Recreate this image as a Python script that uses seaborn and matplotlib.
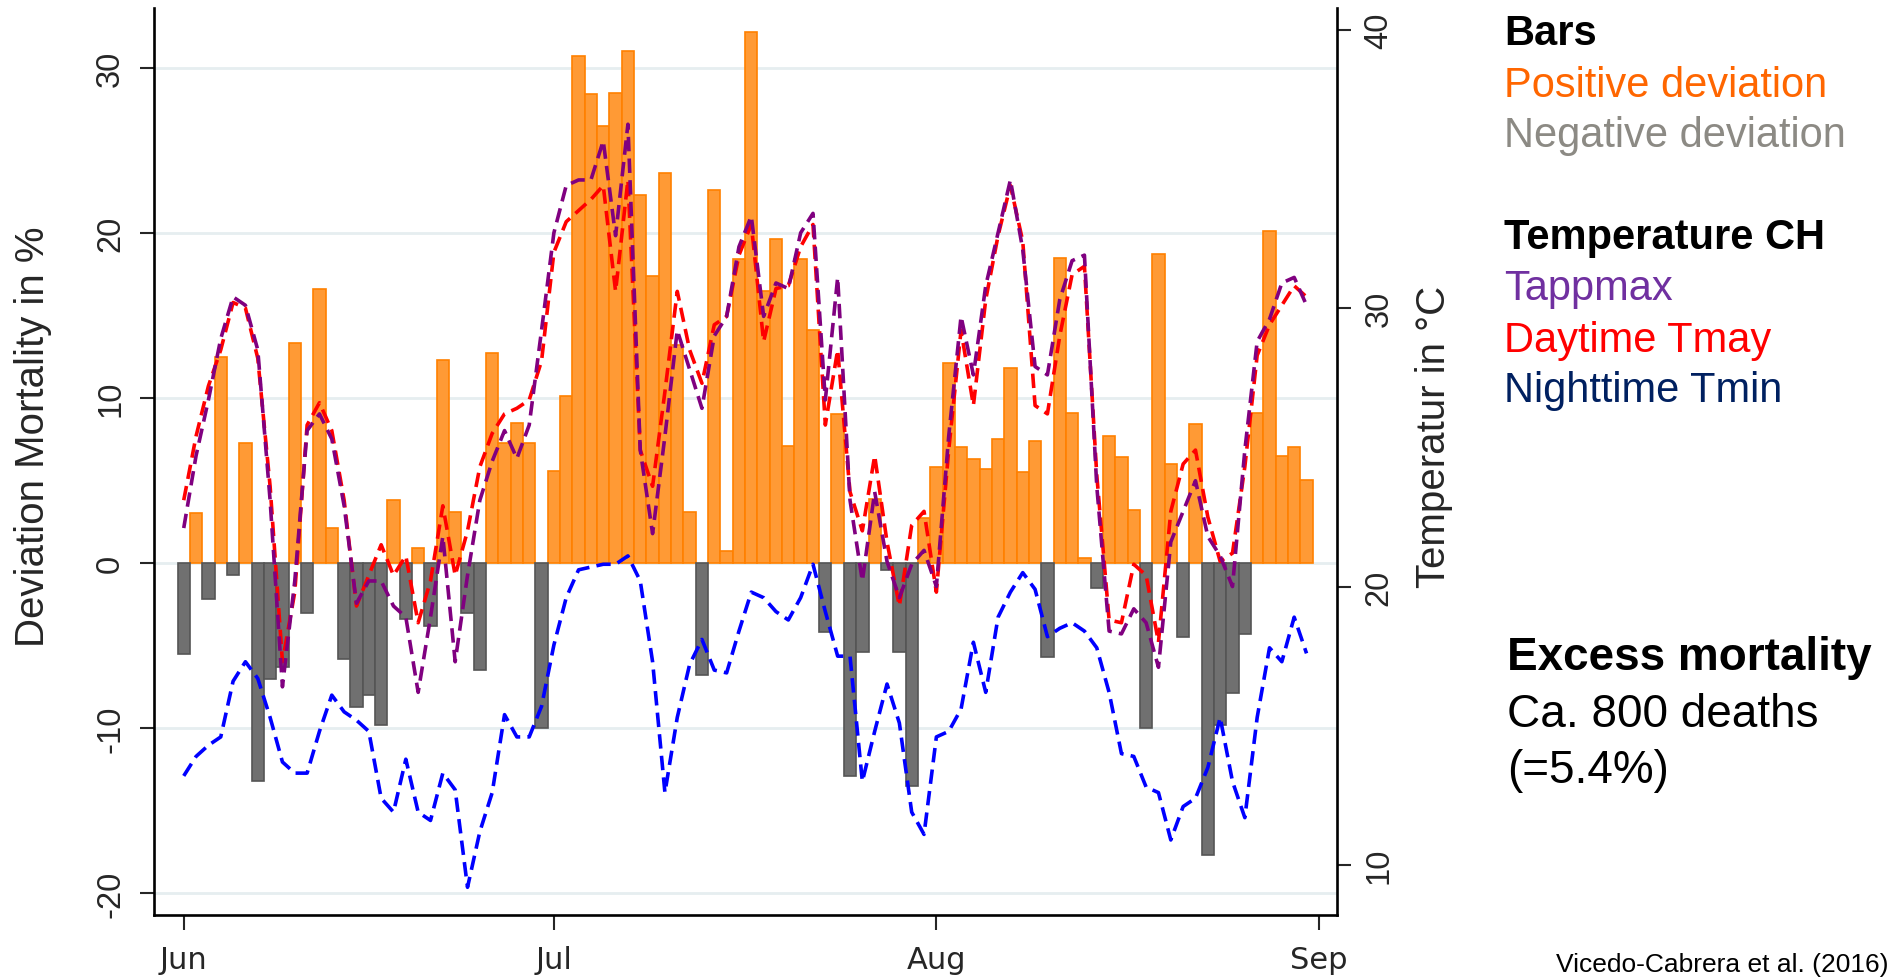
import numpy as np
import pandas as pd
import matplotlib
matplotlib.use('Agg')
import matplotlib.pyplot as plt
import seaborn as sns

# ---------------- data (daily, 1 Jun .. 31 Aug) ----------------
days = list(range(92))

deviation = [
    -5.5, 3.0, -2.2, 12.5, -0.7, 7.3, -13.2, -7.0, -6.3, 13.3,
    -3.0, 16.6, 2.1, -5.8, -8.7, -8.0, -9.8, 3.8, -3.4, 0.9,
    -3.8, 12.3, 3.1, -3.0, -6.5, 12.7, 7.3, 8.5, 7.3, -10.0,
    5.6, 10.1, 30.7, 28.4, 26.5, 28.5, 31.0, 22.3, 17.4, 23.6,
    13.2, 3.1, -6.8, 22.6, 0.7, 18.4, 32.2, 16.5, 19.6, 7.1,
    18.4, 14.1, -4.2, 9.0, -12.9, -5.4, 3.9, -0.4, -5.4, -13.5,
    2.7, 5.8, 12.1, 7.0, 6.3, 5.7, 7.5, 11.8, 5.5, 7.4,
    -5.7, 18.5, 9.1, 0.3, -1.5, 7.7, 6.4, 3.2, -10.0, 18.7,
    6.0, -4.5, 8.4, -17.7, -9.8, -7.9, -4.3, 9.1, 20.1, 6.5,
    7.0, 5.0,
]

tappmax = [
    22.1, 24.7, 26.7, 28.9, 30.4, 30.1, 28.5, 23.1, 16.4, 20.2,
    25.6, 26.2, 25.3, 22.9, 19.4, 20.2, 20.2, 19.3, 18.9, 16.2,
    18.9, 21.8, 17.3, 20.4, 23.1, 24.5, 25.6, 24.6, 25.8, 29.2,
    32.7, 34.4, 34.6, 34.6, 36.0, 32.6, 36.6, 24.9, 21.9, 25.4,
    29.2, 27.8, 26.4, 29.0, 29.7, 32.2, 33.3, 29.7, 30.9, 30.7,
    32.7, 33.4, 26.7, 31.1, 23.1, 20.2, 23.4, 20.9, 19.6, 20.8,
    21.3, 20.0, 25.4, 29.7, 27.6, 30.8, 32.7, 34.6, 32.1, 27.9,
    27.6, 30.3, 31.7, 31.9, 23.6, 18.4, 18.3, 19.2, 18.7, 17.1,
    21.6, 22.7, 23.8, 21.8, 21.1, 20.0, 24.9, 28.8, 29.6, 30.9,
    31.1, 30.1,
]

tmay_day = [
    23.1, 25.4, 27.2, 28.5, 30.2, 30.0, 28.2, 23.6, 17.3, 19.8,
    25.8, 26.6, 25.6, 23.1, 19.3, 20.4, 21.5, 20.4, 21.1, 18.7,
    20.2, 22.9, 20.4, 22.0, 24.3, 25.5, 26.2, 26.4, 26.7, 28.1,
    32.0, 33.1, 33.5, 33.9, 34.4, 30.6, 34.6, 24.9, 23.6, 27.0,
    30.6, 28.5, 27.3, 29.4, 29.7, 31.9, 33.0, 28.8, 30.7, 30.8,
    32.2, 33.0, 25.8, 28.5, 23.4, 22.0, 24.7, 21.6, 19.3, 22.2,
    22.7, 19.8, 24.9, 29.2, 26.5, 30.3, 32.6, 34.4, 32.4, 26.5,
    26.2, 29.0, 31.2, 31.5, 24.0, 18.8, 18.7, 20.8, 20.4, 18.0,
    22.7, 24.4, 24.9, 22.5, 20.9, 21.2, 24.3, 28.3, 29.4, 30.1,
    30.8, 30.4,
]

tmin_night = [
    13.2, 13.9, 14.3, 14.6, 16.6, 17.3, 16.7, 15.3, 13.7, 13.3,
    13.3, 14.8, 16.1, 15.5, 15.2, 14.8, 12.4, 11.9, 13.8, 11.9,
    11.6, 13.3, 12.7, 9.2, 11.2, 12.6, 15.4, 14.6, 14.6, 15.7,
    17.9, 19.6, 20.6, 20.7, 20.8, 20.8, 21.1, 20.2, 17.3, 12.6,
    15.3, 17.2, 18.1, 17.0, 16.9, 18.4, 19.8, 19.6, 19.1, 18.8,
    19.6, 20.8, 19.1, 17.5, 17.5, 13.0, 14.8, 16.5, 15.1, 11.9,
    11.1, 14.6, 14.8, 15.6, 18.0, 16.2, 18.9, 19.8, 20.5, 19.9,
    18.2, 18.5, 18.7, 18.4, 17.8, 16.2, 14.0, 13.9, 12.8, 12.6,
    10.9, 12.1, 12.4, 13.5, 15.3, 13.0, 11.7, 15.3, 17.8, 17.3,
    18.9, 17.6,
]

month_ticks = [0, 30, 61, 92]
month_labels = ['Jun', 'Jul', 'Aug', 'Sep']
left_ticks = [-20, -10, 0, 10, 20, 30]
right_ticks = [10, 20, 30, 40]

# ---------------- style ----------------
sns.set_style('ticks')
plt.rcParams['font.family'] = ['Liberation Sans', 'DejaVu Sans']

W, H = 1895, 979
fig = plt.figure(figsize=(W / 100, H / 100), dpi=100)
ax = fig.add_axes([154 / W, 1 - 915.6 / H, (1337 - 154) / W, (915.6 - 9.4) / H])

df = pd.DataFrame({'day': days, 'dev': deviation})
pos = df[df['dev'] > 0]
neg = df[df['dev'] < 0]

sns.barplot(data=pos, x='day', y='dev', order=days, color='#FF9A35', saturation=1,
            width=1.0, edgecolor='#FF8000', linewidth=1.2, errorbar=None, ax=ax)
sns.barplot(data=neg, x='day', y='dev', order=days, color='#707070', saturation=1,
            width=1.0, edgecolor='#555555', linewidth=1.2, errorbar=None, ax=ax)

ax.set_xlim(-2.41, 93.47)
ax.set_ylim(-21.3, 33.6)
ax.set_xlabel('')
ax.set_ylabel('')
ax.set_yticks(left_ticks)
ax.set_yticklabels([str(t) for t in left_ticks], rotation=90, va='center', fontsize=23.5)
ax.set_xticks(month_ticks)
ax.set_xticklabels(month_labels, fontsize=22, family=['DejaVu Sans'])
ax.yaxis.grid(True, color='#E6EEF0', linewidth=2)
ax.xaxis.grid(False)
ax.set_axisbelow(True)
ax.tick_params(axis='y', direction='out', length=10, width=1.5, pad=10, left=True)
ax.tick_params(axis='x', direction='out', length=11, width=1.5, pad=11, bottom=True)
ax.spines['top'].set_visible(False)
ax.spines['right'].set_visible(False)
for s in ['left', 'bottom']:
    ax.spines[s].set_linewidth(1.9)
    ax.spines[s].set_color('black')

# ---------------- temperature lines ----------------
ax2 = ax.twinx()
dash = (0, (4.0, 2.0))
sns.lineplot(x=days, y=tmin_night, ax=ax2, color='#0000FF', linewidth=2.6, linestyle=dash)
sns.lineplot(x=days, y=tmay_day, ax=ax2, color='#FF0000', linewidth=2.6, linestyle=dash)
sns.lineplot(x=days, y=tappmax, ax=ax2, color='#800080', linewidth=2.6, linestyle=dash)
ax2.set_xlim(-2.41, 93.47)
ax2.set_ylim(8.22, 40.76)
ax2.set_xlabel('')
ax2.set_ylabel('')
ax2.set_yticks(right_ticks)
ax2.set_yticklabels([str(t) for t in right_ticks], rotation=90, va='center', fontsize=23.5)
ax2.tick_params(axis='y', direction='out', length=10, width=1.5, pad=9, right=True)
for s in ['top', 'left', 'bottom']:
    ax2.spines[s].set_visible(False)
ax2.spines['right'].set_linewidth(1.9)
ax2.spines['right'].set_color('black')

# ---------------- axis titles ----------------
fig.text(33 / W, 1 - 437 / H, 'Deviation Mortality in %', rotation=90,
         ha='center', va='center', fontsize=29)
fig.text(1434 / W, 1 - 437 / H, 'Temperatur in °C', rotation=90,
         ha='center', va='center', fontsize=29)

# ---------------- legend texts ----------------
lx = 1504 / W
fig.text(lx, 1 - 45 / H, 'Bars', fontsize=30, fontweight='bold', color='black', va='baseline')
fig.text(lx, 1 - 96.7 / H, 'Positive deviation', fontsize=30, color='#FF6600', va='baseline')
fig.text(lx, 1 - 146.7 / H, 'Negative deviation', fontsize=30, color='#8C8A84', va='baseline')
fig.text(lx, 1 - 249 / H, 'Temperature CH', fontsize=30, fontweight='bold', color='black', va='baseline')
fig.text(lx, 1 - 300 / H, 'Tappmax', fontsize=30, color='#7030A0', va='baseline')
fig.text(lx, 1 - 351.7 / H, 'Daytime Tmay', fontsize=30, color='#FF0000', va='baseline')
fig.text(lx, 1 - 402 / H, 'Nighttime Tmin', fontsize=30, color='#002060', va='baseline')

ex = 1507 / W
fig.text(ex, 1 - 670 / H, 'Excess mortality', fontsize=33, fontweight='bold', color='black', va='baseline')
fig.text(ex, 1 - 726.7 / H, 'Ca. 800 deaths', fontsize=33, color='black', va='baseline')
fig.text(ex, 1 - 783 / H, '(=5.4%)', fontsize=33, color='black', va='baseline')

fig.text(1888 / W, 1 - 971.7 / H, 'Vicedo-Cabrera et al. (2016)', fontsize=19,
         color='black', ha='right', va='baseline')

fig.savefig('out.png', dpi=100)
